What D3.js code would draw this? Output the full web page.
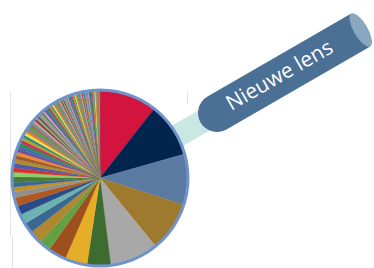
<!DOCTYPE html>
<html><head><meta charset="utf-8">
<script src="https://cdn.jsdelivr.net/npm/d3@7"></script>
<style>html,body{margin:0;padding:0;background:#fff;}svg{display:block;}</style>
</head><body>
<svg id="c" width="374" height="268"></svg>
<script>
// slice values (share of circle, read in degrees from the picture), clockwise from 12 o'clock
const bigValues = [38, 36, 33.6, 33, 32, 15.6, 14.7, 12, 7.8, 8.5, 7, 6.6, 6, 5.5, 4];
const bigColors = ["#d2143e","#03244f","#5a7aa2","#9e7a2e","#a8a8a8","#3e6b2f","#e6ae26","#9e4f1e","#63a043","#b08830","#3a6890","#6cb3b0","#2a4a8a","#b0581e","#8f8f8f"];
const midValues = [3.2, 3, 3.8, 3, 3, 3, 2.8, 2.5, 2.4];
const midColors = ["#c0902e","#3a6a90","#4a7a35","#8ccf6a","#d83030","#4a5aa8","#b08a30","#9a5a30","#e88a30"];
const smallValues = [2.2, 2.1, 2, 2, 1.9, 1.9, 1.8, 1.8, 1.7, 1.7, 1.6, 1.6,
  1.4, 1.4, 1.3, 1.3, 1.3, 1.2, 1.2, 1.2, 1.1, 1.1, 1.1, 1.0, 1.0, 1.0, 1.0, 0.9, 0.9, 0.9, 0.9, 0.9,
  0.85, 0.85, 0.8, 0.8, 0.8, 0.8, 0.75, 0.75, 0.75, 0.75, 0.75, 0.7, 0.7, 0.7, 0.7, 0.7, 0.7, 0.7,
  0.7, 0.7, 0.7, 0.7, 0.7, 0.7, 0.7, 0.7, 0.65, 0.65, 0.65, 0.65, 0.65, 0.65, 0.65, 0.6, 0.6, 0.6, 0.6, 0.6, 0.6, 0.6];
const smallPalette = ["#7a4a9a","#3a70b0","#2e8a3e","#c0306a","#b8a020","#2a8a8a","#f0e040","#e07b2a","#808080","#5a9a50","#a06a40","#6a8ab8","#c8a870","#9a2a5a","#90b840","#3a5a9a","#d07850","#5ab0c8","#8a6a2a","#b0b0d0"];
const lensLabel = "Nieuwe lens";

const values = bigValues.concat(midValues, smallValues);
const colors = bigColors.concat(midColors, smallValues.map((_, i) => smallPalette[i % smallPalette.length]));

const svg = d3.select("#c");

// faint frame lines
svg.append("line").attr("x1",10.5).attr("x2",10.5).attr("y1",92).attr("y2",236).attr("stroke","#e4e4e4");
svg.append("line").attr("x1",12.5).attr("x2",12.5).attr("y1",236).attr("y2",268).attr("stroke","#e4e4e4");
svg.append("line").attr("x1",187.5).attr("x2",187.5).attr("y1",92).attr("y2",104).attr("stroke","#e4e4e4");

const ANG = -30, OX = 217, OY = 113;
// beam
const beam = svg.append("g").attr("transform",`translate(${OX},${OY}) rotate(${ANG})`);
beam.append("rect").attr("x",-75).attr("y",-11.5).attr("width",80).attr("height",23).attr("fill","#c9e8e3");

// pie
const cx = 100, cy = 178, R = 88;
const pie = d3.pie().sort(null).value(d => d)(values);
const arc = d3.arc().innerRadius(0).outerRadius(R);
const g = svg.append("g").attr("transform",`translate(${cx},${cy})`);
g.selectAll("path").data(pie).join("path")
  .attr("d", arc)
  .attr("fill", (d,i) => colors[i])
  .attr("stroke", (d,i) => colors[i]).attr("stroke-width", 0.3);
g.append("circle").attr("r", R).attr("fill","none").attr("stroke","#6f94cb").attr("stroke-width",3);

// cylinder
const L = 166, H = 19;
const lens = svg.append("g").attr("transform",`translate(${OX},${OY}) rotate(${ANG})`);
lens.append("path")
  .attr("d", `M0,${-H} L${L},${-H} L${L},${H} L0,${H} A${H},${H} 0 0 1 0,${-H} Z`)
  .attr("fill","#4a7096");
lens.append("ellipse").attr("cx",L).attr("cy",0).attr("rx",7).attr("ry",H).attr("fill","#89a8c0");
lens.append("text").attr("x",73).attr("y",5.5)
  .attr("text-anchor","middle")
  .attr("font-family","'Open Sans', sans-serif").attr("font-size",21)
  .attr("fill","#ffffff").text(lensLabel);
</script>
</body></html>
